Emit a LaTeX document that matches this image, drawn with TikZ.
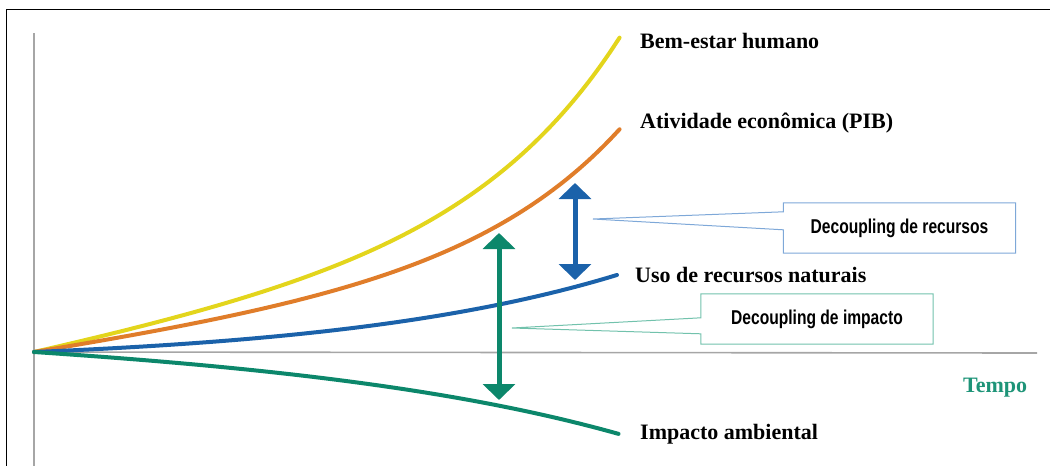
\documentclass[tikz,border=0pt]{standalone}
\usepackage{fontspec}
\setmainfont{Liberation Serif}
\newfontfamily\condfont[FakeStretch=0.78]{Liberation Sans}
\usetikzlibrary{calc,arrows.meta}
\definecolor{frame}{HTML}{000000}
\definecolor{axis}{HTML}{A6A6A6}
\definecolor{wellbeing}{HTML}{E3D51C}
\definecolor{gdp}{HTML}{E07D2A}
\definecolor{resource}{HTML}{1B62AA}
\definecolor{impact}{HTML}{0C876B}
\definecolor{resline}{HTML}{7EA8D8}
\definecolor{impline}{HTML}{72C2AC}
\definecolor{tempo}{HTML}{1E9478}
\tikzset{
  curve/.style={line width=4pt, line cap=round, line join=round, smooth, samples=60},
  axisline/.style={draw=axis, line width=1.6pt},
  lab/.style={anchor=base west, inner sep=0pt, font=\fontsize{22}{24}\selectfont\bfseries},
  gaparrow/.style={line width=5pt, {Triangle[width=32pt,length=16pt]}-{Triangle[width=32pt,length=16pt]}},
  callbox/.style={minimum width=232pt, minimum height=50pt, inner sep=0pt,
    font=\condfont\bfseries\fontsize{20}{22}\selectfont},
  callline/.style={line width=1pt, line join=miter},
}

\begin{document}
\begin{tikzpicture}[x=1pt,y=-1pt]
  \useasboundingbox (0,0) rectangle (1050,466);
  \coordinate (O) at (34,352);

  % frame and axes
  \draw[frame, line width=1.8pt] (6.5,475) -- (6.5,9.5) -- (1060,9.5);
  \draw[axisline] (34,33) -- (34,475);
  \draw[axisline] (O) -- (1037,353);

  % curves (t runs from the origin to the label end)
  \draw[curve, wellbeing] plot[domain=0:1, variable=\t]
    ({34+586*\t},{352-(119.4*\t+3.65*(exp(4*\t)-1))});
  \draw[curve, gdp] plot[domain=0:1, variable=\t]
    ({34+586*\t},{352-(86.5*\t+2.55*(exp(4*\t)-1))});
  \draw[curve, resource] plot[domain=0:0.995, variable=\t]
    ({34+586*\t},{352-12.2*(exp(2*\t)-1)});
  \draw[curve, impact] plot[domain=0:0.998, variable=\t]
    ({34+586*\t},{352+(19.3*\t+9.86*(exp(2*\t)-1))});

  \node[lab] (bem) at (640,48) {Bem-estar humano};
  \node[lab] (pib) at (640,128) {Atividade econômica (PIB)};
  \node[lab] (uso) at (635,282) {Uso de recursos naturais};
  \node[lab] (amb) at (640,439) {Impacto ambiental};
  \node[lab, text=tempo] (tempo) at (963,392) {Tempo};

  % decoupling arrows
  \coordinate (rtop) at (575,183);
  \coordinate (rbot) at (575,280);
  \coordinate (itop) at (499,233);
  \coordinate (ibot) at (499,400);
  \draw[gaparrow, resource] (rtop) -- (rbot);
  \draw[gaparrow, impact] (itop) -- (ibot);

  % callouts
  \node[callbox] (recbox) at (899.5,228) {Decoupling de recursos};
  \coordinate (rtip) at (593,219);
  \draw[callline, draw=resline] (recbox.north west) -- (recbox.north east) -- (recbox.south east)
    -- (recbox.south west) -- ($(recbox.north west)+(0,27)$) -- (rtip)
    -- ($(recbox.north west)+(0,9)$) -- cycle;

  \node[callbox] (impbox) at (817,319) {Decoupling de impacto};
  \coordinate (itip) at (512,328);
  \draw[callline, draw=impline] (impbox.north west) -- (impbox.north east) -- (impbox.south east)
    -- (impbox.south west) -- ($(impbox.north west)+(0,40)$) -- (itip)
    -- ($(impbox.north west)+(0,24)$) -- cycle;
\end{tikzpicture}
\end{document}
